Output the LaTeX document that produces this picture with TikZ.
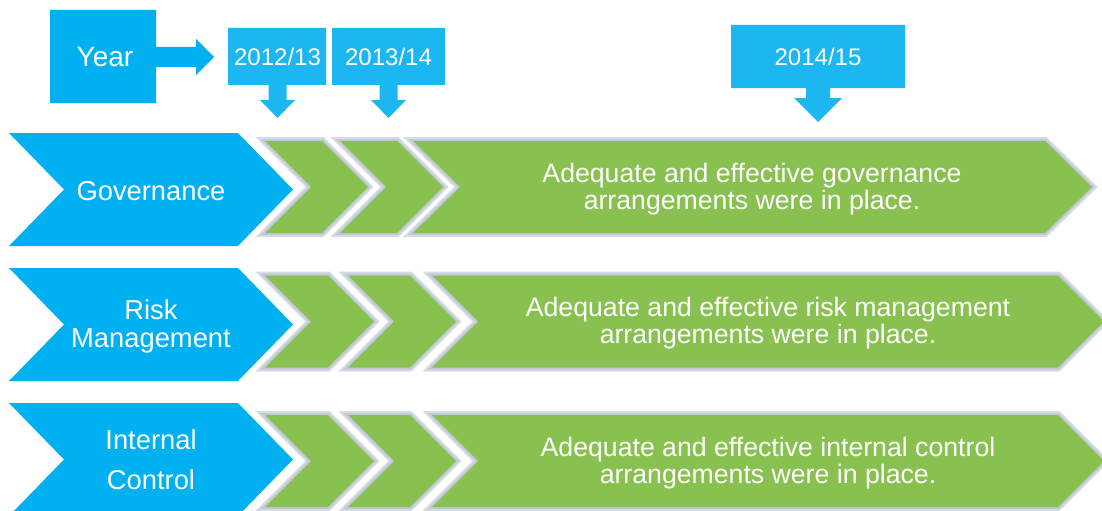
\documentclass[tikz,border=0pt]{standalone}
\usepackage{fontspec}
\setmainfont{Liberation Sans}
\definecolor{cblue}{RGB}{0,176,240}
\definecolor{ccall}{RGB}{28,182,240}
\definecolor{cgreen}{RGB}{137,193,81}
\definecolor{cband}{RGB}{214,219,230}
\definecolor{cbandd}{RGB}{194,201,216}

% chevron: left x, top-right x, centre y, half height, point depth
\newcommand\mychev[5]{(#1,#3-#4) -- (#2,#3-#4) -- (#2+#5,#3) -- (#2,#3+#4) -- (#1,#3+#4) -- (#1+#5,#3) -- cycle}
% down-arrow callout: box left, box right, box top, box bottom, centre x,
% shaft half width, head top y, head half width, tip y
\newcommand\mydowncall[9]{(#1,#3) -- (#2,#3) -- (#2,#4) -- (#5+#6,#4) -- (#5+#6,#7) -- (#5+#8,#7) -- (#5,#9) -- (#5-#8,#7) -- (#5-#6,#7) -- (#5-#6,#4) -- (#1,#4) -- cycle}

\begin{document}
\begin{tikzpicture}[x=0.75pt,y=-0.75pt,
  bluechev/.style={fill=cblue},
  greenchev/.style={fill=cgreen,
    preaction={draw=cband, line width=6pt, line join=miter},
    preaction={draw=cbandd, line width=3pt, line join=miter}},
  callout/.style={fill=ccall},
  lbl/.style={text=white, font=\fontsize{20.5}{21}\selectfont, align=center, inner sep=0pt},
  gtxt/.style={text=white, font=\fontsize{20}{20.3}\selectfont, align=center, inner sep=0pt},
  ytxt/.style={text=white, font=\fontsize{18}{20}\selectfont, inner sep=0pt}]
\useasboundingbox (0,0) rectangle (1102,510);
\clip (0,0) rectangle (1102,510);

% year callouts
\fill[cblue] (50,10) -- (156,10) -- (156,47) -- (196,47) -- (196,39) -- (214,57)
  -- (196,75) -- (196,67) -- (156,67) -- (156,103) -- (50,103) -- cycle;
\fill[callout] \mydowncall{228}{326}{28}{85}{277.5}{9}{100}{17.5}{118};
\fill[callout] \mydowncall{332}{445}{28}{85}{388.5}{9}{100}{17.5}{118};
\fill[callout] \mydowncall{731}{905}{25}{88}{818}{12}{98}{24}{122};

\node[ytxt, font=\fontsize{21}{21}\selectfont] (year) at (105,57) {Year};
\node[ytxt] (y1213) at (277.5,57) {2012/13};
\node[ytxt] (y1314) at (388.5,57) {2013/14};
\node[ytxt] (y1415) at (818,57) {2014/15};

% row 1: governance
\fill[bluechev] \mychev{9}{238}{189.5}{56.5}{55};
\path[greenchev] \mychev{265}{322}{187}{46}{46};
\path[greenchev] \mychev{340}{397}{187}{46}{46};
\path[greenchev] \mychev{413}{1045}{187}{46}{47};
\node[lbl] (gov) at (151,191.5) {Governance};
\node[gtxt] (govtxt) at (752,189) {Adequate and effective governance\\arrangements were in place.};

% row 2: risk management
\fill[bluechev] \mychev{9}{238}{324.5}{56.5}{55};
\path[greenchev] \mychev{265}{328}{321.5}{46}{46};
\path[greenchev] \mychev{348}{410}{321.5}{46}{46};
\path[greenchev] \mychev{432}{1058}{321.5}{46}{46};
\node[lbl] (risk) at (151,326.5) {Risk\\Management};
\node[gtxt] (risktxt) at (768,323.5) {Adequate and effective risk management\\arrangements were in place.};

% row 3: internal control
\fill[bluechev] \mychev{9}{238}{459.5}{56.5}{55};
\path[greenchev] \mychev{265}{328}{461}{46}{46};
\path[greenchev] \mychev{348}{410}{461}{46}{46};
\path[greenchev] \mychev{432}{1058}{461}{46}{46};
\node[lbl] (ctrl) at (151,459.5) {Internal\\[9pt]Control};
\node[gtxt] (ctrltxt) at (768,463) {Adequate and effective internal control\\arrangements were in place.};
\end{tikzpicture}
\end{document}
